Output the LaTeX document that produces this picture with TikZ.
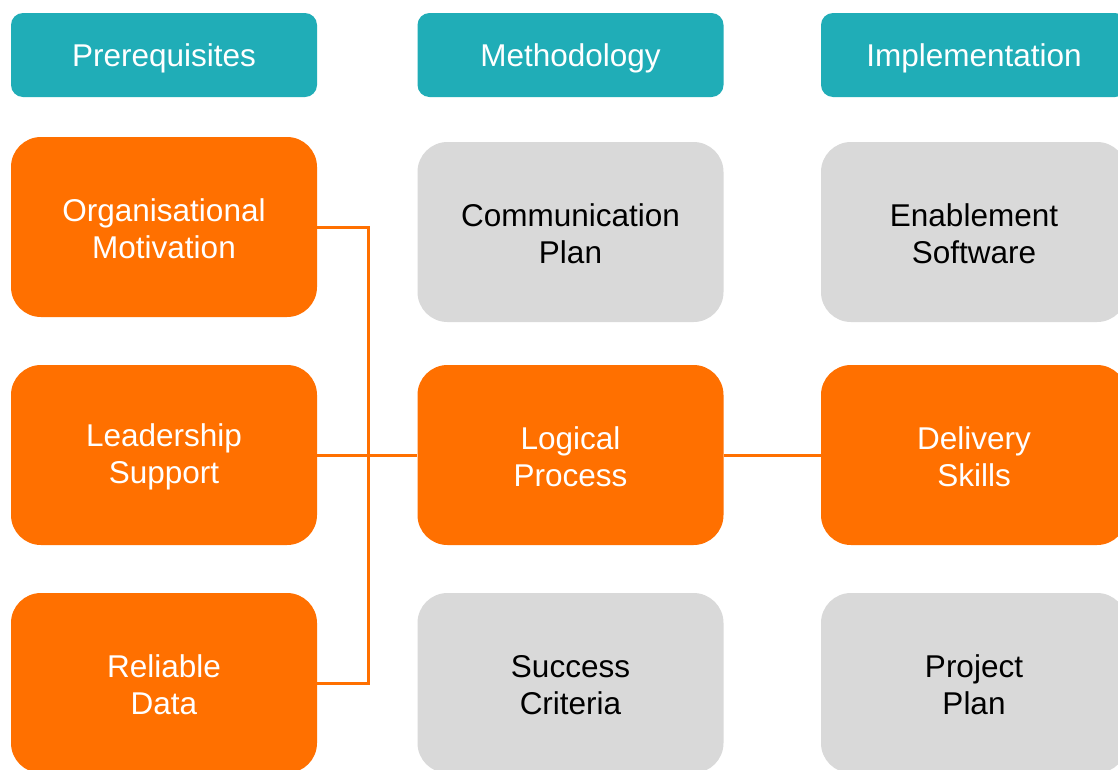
\documentclass[tikz,border=0pt]{standalone}
\usepackage{fontspec}
\setmainfont{Liberation Sans}
\definecolor{teal}{HTML}{20ADB7}
\definecolor{org}{HTML}{FF7000}
\definecolor{gry}{HTML}{D9D9D9}
\begin{document}
\begin{tikzpicture}[x=1pt,y=-1pt,
  txt/.style={inner sep=0pt,align=center,font=\fontsize{31.5}{37}\selectfont},
  hdr/.style={fill=teal,rounded corners=12pt,minimum width=306pt,minimum height=84pt,inner sep=0pt},
  obox/.style={fill=org,rounded corners=30pt,minimum width=306pt,minimum height=180pt,inner sep=0pt},
  gbox/.style={fill=gry,rounded corners=30pt,minimum width=306pt,minimum height=180pt,inner sep=0pt},
  htx/.style={txt,text=white,yshift=-3.5pt},
  otx/.style={txt,text=white,yshift=-2pt},
  gtx/.style={txt,text=black,yshift=-2pt},
  link/.style={draw=org,line width=3pt}]
\useasboundingbox (0,0) rectangle (1118,769);
\clip (0,0) rectangle (1118,769);
\fill[white] (0,0) rectangle (1118,769);
\node[hdr,label={[htx]center:Prerequisites}] (h1) at (164,55) {};
\node[hdr,label={[htx]center:Methodology}] (h2) at (570.5,55) {};
\node[hdr,label={[htx]center:Implementation}] (h3) at (974,55) {};
\node[obox,label={[otx]center:{Organisational\\Motivation}}] (om) at (164,227) {};
\node[obox,label={[otx]center:{Leadership\\Support}}] (ls) at (164,455) {};
\node[obox,label={[otx]center:{Reliable\\Data}}] (rd) at (164,683) {};
\node[gbox,label={[gtx]center:{Communication\\Plan}}] (cp) at (570.5,232) {};
\node[obox,label={[otx]center:{Logical\\Process}}] (lp) at (570.5,455) {};
\node[gbox,label={[gtx]center:{Success\\Criteria}}] (sc) at (570.5,683) {};
\node[gbox,label={[gtx]center:{Enablement\\Software}}] (es) at (974,232) {};
\node[obox,label={[otx]center:{Delivery\\Skills}}] (ds) at (974,455) {};
\node[gbox,label={[gtx]center:{Project\\Plan}}] (pp) at (974,683) {};
\coordinate (j) at (368,227);
\draw[link] (om.east) -- (j) |- (rd.east);
\draw[link] (ls.east) -- (lp.west);
\draw[link] (lp.east) -- (ds.west);
\end{tikzpicture}
\end{document}
